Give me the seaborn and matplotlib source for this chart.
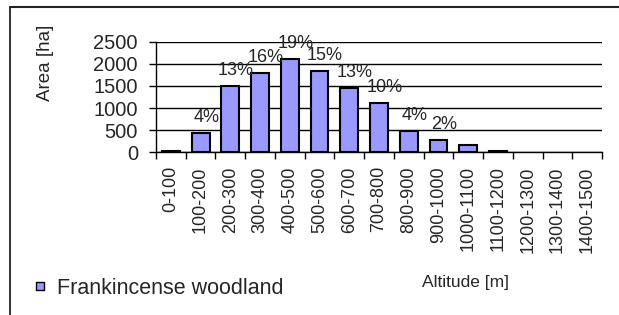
import matplotlib
matplotlib.use("Agg")
import matplotlib.pyplot as plt
import seaborn as sns
import pandas as pd
from matplotlib.lines import Line2D

# Data
categories = ['0-100', '100-200', '200-300', '300-400', '400-500', '500-600',
              '600-700', '700-800', '800-900', '900-1000', '1000-1100',
              '1100-1200', '1200-1300', '1300-1400', '1400-1500']
area = [35, 435, 1505, 1790, 2110, 1835, 1460, 1105, 475, 275, 160, 25, 0, 0, 0]
pct_labels = ['', '4%', '13%', '16%', '19%', '15%', '13%', '10%', '4%', '2%',
              '', '', '', '', '']
y_ticks = [0, 500, 1000, 1500, 2000, 2500]

sns.set_style("white")
plt.rcParams['font.family'] = ['Liberation Sans', 'DejaVu Sans']

df = pd.DataFrame({'altitude': categories, 'area': area})

fig = plt.figure(figsize=(6.19, 3.15), dpi=100)
ax = fig.add_axes([0.252, 0.5165, 0.7205, 0.351])

sns.barplot(data=df, x='altitude', y='area', color='#9999FF', saturation=1,
            edgecolor='black', linewidth=1.5, width=0.6, ax=ax)

# empty classes show no outline
for bar, val in zip(ax.patches, area):
    if val == 0:
        bar.set_linewidth(0)

ax.set_xlim(-0.5, len(categories) - 0.5)
ax.set_ylim(0, 2500)
ax.set_yticks(y_ticks)
ax.yaxis.grid(True, color='black', linewidth=1)
ax.set_axisbelow(True)
ax.set_xlabel('')
ax.set_ylabel('')

for side in ['top', 'right']:
    ax.spines[side].set_visible(False)
for side in ['left', 'bottom']:
    ax.spines[side].set_color('black')
    ax.spines[side].set_linewidth(1)

# tick marks between categories, labels at category centres
ax.set_xticks([i + 0.5 for i in range(-1, len(categories))], minor=True)
ax.tick_params(axis='x', which='major', length=0, pad=10, labelsize=13,
               labelrotation=90)
ax.tick_params(axis='x', which='minor', length=5, width=1, color='black',
               direction='out', bottom=True)
ax.tick_params(axis='y', length=5, width=1, color='black', direction='out',
               left=True, pad=8, labelsize=14.5)

# percentage labels above bars
for i, (val, lab) in enumerate(zip(area, pct_labels)):
    if lab:
        ax.annotate(lab, (i, val), xytext=(4, 5), textcoords='offset points',
                    ha='center', va='bottom', fontsize=13)

fig.text(45 / 619, 1 - 63 / 315, 'Area [ha]', rotation=90, ha='center',
         va='center', fontsize=13.5)
fig.text(466 / 619, 1 - 283 / 315, 'Altitude [m]', ha='center', va='center',
         fontsize=12.5)

handle = Line2D([], [], marker='s', markersize=5.5, markerfacecolor='#9999FF',
                markeredgecolor='black', markeredgewidth=1, linestyle='none')
fig.legend([handle], ['Frankincense woodland'], loc='center left',
           bbox_to_anchor=(35 / 619, 1 - 288 / 315), frameon=False,
           fontsize=15.5, handlelength=0.5, handletextpad=0.5,
           borderaxespad=0, borderpad=0)

# chart frame (left and top edges visible in the crop)
fig.add_artist(Line2D([10 / 619, 10 / 619], [0, 1 - 7 / 315],
                      transform=fig.transFigure, color='#222222', lw=1.3))
fig.add_artist(Line2D([10 / 619, 1], [1 - 7 / 315, 1 - 7 / 315],
                      transform=fig.transFigure, color='#222222', lw=1.5))

fig.savefig('out.png', dpi=100)
